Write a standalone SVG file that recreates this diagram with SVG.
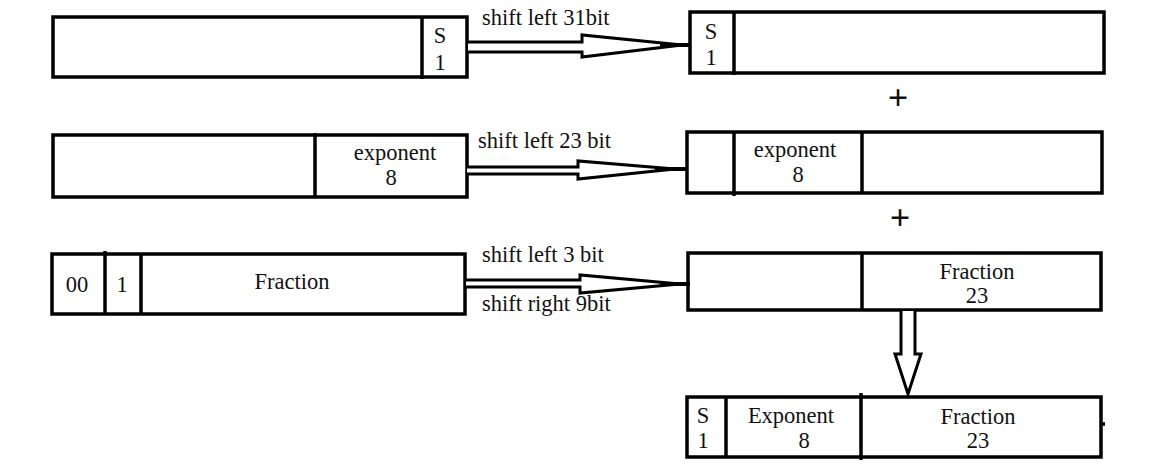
<svg xmlns="http://www.w3.org/2000/svg" width="1149" height="470" viewBox="0 0 1149 470">
<style>
.box{fill:#fff;stroke:#000;stroke-width:3.5}
.div{stroke:#000;stroke-width:3.5;fill:none}
text{font-family:"Liberation Serif","Times New Roman",serif;font-size:22.5px;fill:#111}
.c{text-anchor:middle}
.plus{font-size:36px;font-weight:bold;text-anchor:middle}
.arr{fill:#fff;stroke:#000;stroke-width:3;stroke-linejoin:miter}
.tip{stroke:#000;stroke-width:4}
</style>
<rect width="1149" height="470" fill="#fff"/>
<g id="box-sign-src">
<rect class="box" x="53" y="17" width="414" height="60"/>
<line class="div" x1="422" y1="17" x2="422" y2="79"/>
<text class="c" x="440" y="43">S</text>
<text class="c" x="440" y="70">1</text>
</g>
<g id="box-sign-dst">
<rect class="box" x="690" y="12" width="414" height="61"/>
<line class="div" x1="734" y1="12" x2="734" y2="75"/>
<text class="c" x="711" y="39">S</text>
<text class="c" x="711" y="65">1</text>
</g>
<g id="plus-1"><text class="plus" x="898" y="110">+</text></g>
<g id="box-exp-src">
<rect class="box" x="53" y="135" width="414" height="62"/>
<line class="div" x1="315" y1="133" x2="315" y2="197"/>
<text class="c" x="395" y="160">exponent</text>
<text class="c" x="391" y="185">8</text>
</g>
<g id="box-exp-dst">
<rect class="box" x="687" y="132" width="415" height="61"/>
<line class="div" x1="734" y1="132" x2="734" y2="196"/>
<line class="div" x1="862" y1="132" x2="862" y2="193"/>
<text class="c" x="795" y="157">exponent</text>
<text class="c" x="798" y="182">8</text>
</g>
<g id="plus-2"><text class="plus" x="900" y="230">+</text></g>
<g id="box-frac-src">
<rect class="box" x="52" y="254" width="413" height="60"/>
<line class="div" x1="105" y1="251" x2="105" y2="314"/>
<line class="div" x1="141" y1="254" x2="141" y2="314"/>
<text class="c" x="77" y="292">00</text>
<text class="c" x="122" y="292">1</text>
<text class="c" x="292" y="289">Fraction</text>
</g>
<g id="box-frac-dst">
<rect class="box" x="688" y="253" width="413" height="57"/>
<line class="div" x1="862" y1="253" x2="862" y2="310"/>
<text class="c" x="977" y="279">Fraction</text>
<text class="c" x="977" y="303">23</text>
</g>
<g id="box-result">
<rect class="box" x="687" y="397" width="414" height="60"/>
<line class="div" x1="726" y1="397" x2="726" y2="457"/>
<line class="div" x1="861" y1="393" x2="861" y2="460"/>
<line class="div" x1="1101" y1="424" x2="1105" y2="424"/>
<text class="c" x="703" y="423">S</text>
<text class="c" x="703" y="448">1</text>
<text class="c" x="791" y="423">Exponent</text>
<text class="c" x="804" y="448">8</text>
<text class="c" x="978" y="424">Fraction</text>
<text class="c" x="978" y="448">23</text>
</g>
<g id="connectors">
<path class="arr" d="M468,42 L582,42 L582,35 L682,45 L582,57 L582,52 L468,52"/>
<line class="tip" x1="660" y1="45" x2="691" y2="45"/>
<text x="482" y="25">shift left 31bit</text>
<path class="arr" d="M467,167 L578,167 L578,161 L675,169 L578,179 L578,174 L467,174"/>
<line class="tip" x1="655" y1="169" x2="686" y2="169"/>
<text x="478" y="148">shift left 23 bit</text>
<path class="arr" d="M466,280 L580,280 L580,275 L680,284 L580,293 L580,287 L466,287"/>
<line class="tip" x1="660" y1="284" x2="690" y2="284"/>
<text x="482" y="262">shift left 3 bit</text>
<text x="482" y="311">shift right 9bit</text>
<path class="arr" d="M901,311 L901,354 L895,354 L908,394 L921,354 L915,354 L915,311"/>
</g>
</svg>
